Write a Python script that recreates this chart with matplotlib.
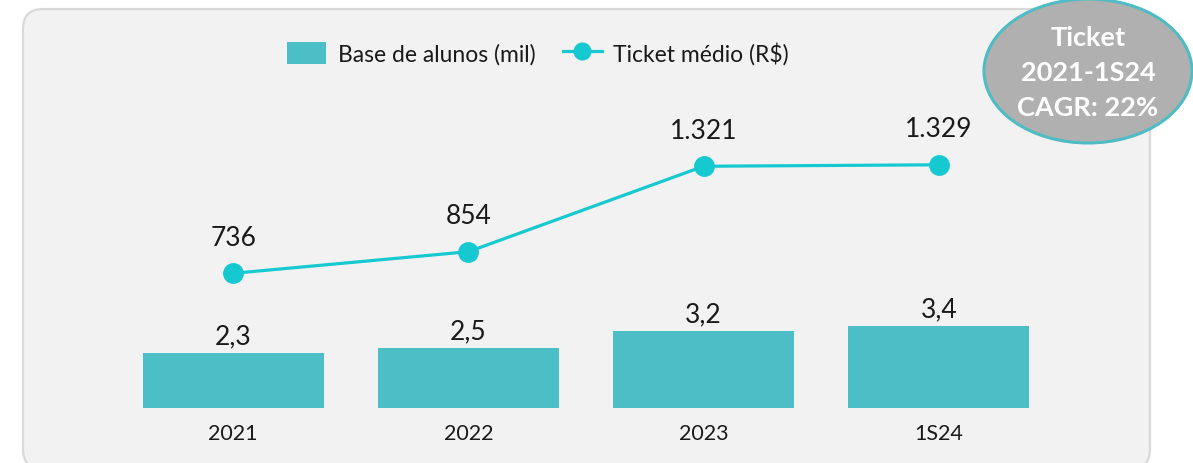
import matplotlib
matplotlib.use("Agg")
import matplotlib.pyplot as plt
from matplotlib.patches import FancyBboxPatch, Ellipse, Patch
from matplotlib.lines import Line2D

categories = ["2021", "2022", "2023", "1S24"]
base_alunos = [2.3, 2.5, 3.2, 3.4]
base_labels = ["2,3", "2,5", "3,2", "3,4"]
ticket = [736, 854, 1321, 1329]
ticket_labels = ["736", "854", "1.321", "1.329"]
legend_labels = ["Base de alunos (mil)", "Ticket médio (R$)"]
badge_lines = ["Ticket", "2021-1S24", "CAGR: 22%"]

BAR_C = "#4cbec6"
LINE_C = "#16c9d1"
TXT_C = "#1a1a1a"
FONT = ["Lato", "DejaVu Sans"]
plt.rcParams["font.family"] = FONT

W, H = 1193, 464
fig = plt.figure(figsize=(W / 100, H / 100), dpi=100)
fig.patch.set_facecolor("white")

# background panel (pixel coordinates)
bg = fig.add_axes([0, 0, 1, 1], zorder=0)
bg.set_xlim(0, W)
bg.set_ylim(H, 0)
bg.axis("off")
bg.add_patch(FancyBboxPatch((23 + 20, 10 + 20), 1150 - 23 - 40, 470 - 10 - 40,
                            boxstyle="round,pad=20", facecolor="#f2f2f2",
                            edgecolor="#d9d9d9", linewidth=1.6))

# main axes: x centers 233 + 235*i, baseline y=409
left_px, right_px = 233 - 117.5, 939 + 117.5
bottom_px, top_px = 409, 60
ax = fig.add_axes([left_px / W, (H - bottom_px) / H, (right_px - left_px) / W,
                   (bottom_px - top_px) / H], zorder=1)
ax.patch.set_alpha(0)
x = list(range(len(categories)))
bars = ax.bar(x, base_alunos, width=0.77, color=BAR_C, label=legend_labels[0])
ax.set_xlim(-0.5, 3.5)
ax.set_ylim(0, (bottom_px - top_px) / 24.0)
for xi, v, lab in zip(x, base_alunos, base_labels):
    ax.annotate(lab, (xi, v), xytext=(0, 7), textcoords="offset points",
                ha="center", va="baseline", fontsize=19, color=TXT_C)
ax.set_xticks(x)
ax.set_xticklabels(categories, fontsize=15.5, color=TXT_C)
ax.tick_params(axis="x", length=0, pad=11)
ax.set_yticks([])
for s in ax.spines.values():
    s.set_visible(False)

ax2 = ax.twinx()
ax2.patch.set_alpha(0)
ax2.plot(x, ticket, color=LINE_C, linewidth=2.3, marker="o", markersize=14,
         label=legend_labels[1])
ax2.set_ylim(0, (bottom_px - top_px) / 0.183)
for xi, v, lab in zip(x, ticket, ticket_labels):
    ax2.annotate(lab, (xi, v), xytext=(0, 26), textcoords="offset points",
                 ha="center", va="center", fontsize=19, color=TXT_C)
ax2.set_yticks([])
for s in ax2.spines.values():
    s.set_visible(False)

handles = [Patch(facecolor=BAR_C, edgecolor="none"),
           Line2D([0], [0], color=LINE_C, linewidth=2.3, marker="o", markersize=12)]
fig.legend(handles, legend_labels, loc="center", ncol=2, frameon=False,
           bbox_to_anchor=(538 / W, (H - 54) / H), fontsize=16.5,
           handlelength=1.7, handleheight=1.1, columnspacing=1.2, handletextpad=0.5,
           labelcolor=TXT_C)

# badge
ov = fig.add_axes([0, 0, 1, 1], zorder=5)
ov.set_xlim(0, W)
ov.set_ylim(H, 0)
ov.axis("off")
ov.add_patch(Ellipse((1088, 72), 208, 144, facecolor="#b0b0b0",
                     edgecolor="#4dbcc3", linewidth=2.2))
for yy, t in zip([38, 73, 108], badge_lines):
    ov.text(1088, yy, t, ha="center", va="center", fontsize=19.5,
            fontweight="bold", color="white")

fig.savefig("out.png", dpi=100, facecolor="white")
